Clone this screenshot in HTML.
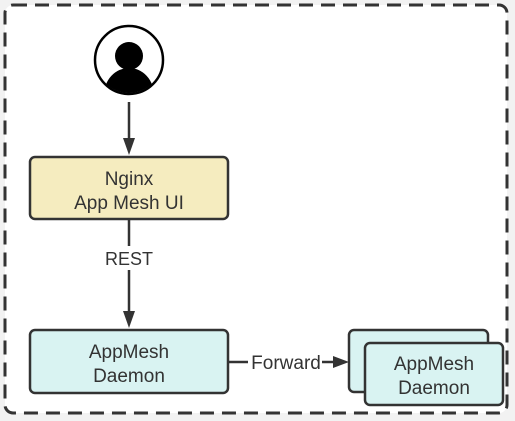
<!DOCTYPE html>
<html><head><style>
html,body{margin:0;padding:0;background:#f2f2f2;}
svg{display:block;}
text{font-family:"Liberation Sans",sans-serif;font-size:19px;fill:#333;}
</style></head><body>
<svg width="515" height="421" viewBox="0 0 515 421">
<rect x="5" y="5" width="502" height="408" rx="8" fill="#fff" stroke="#333" stroke-width="3" stroke-dasharray="14,8"/>
<circle cx="129" cy="60" r="34" fill="#fff" stroke="#000" stroke-width="2.5"/>
<clipPath id="c"><circle cx="129" cy="60" r="33"/></clipPath>
<g clip-path="url(#c)" fill="#000">
<circle cx="129" cy="56" r="14"/>
<ellipse cx="129" cy="95" rx="25" ry="27"/>
</g>
<line x1="129" y1="102" x2="129" y2="140" stroke="#333" stroke-width="2.5"/>
<polygon points="123,138 135,138 129,155" fill="#333"/>
<rect x="30" y="157" width="198" height="62" rx="5" fill="#f5ecbf" stroke="#333" stroke-width="2.5"/>
<text x="129" y="185" text-anchor="middle">Nginx</text>
<text x="129" y="209" text-anchor="middle">App Mesh UI</text>
<line x1="129" y1="219" x2="129" y2="246" stroke="#333" stroke-width="2.5"/>
<line x1="129" y1="270" x2="129" y2="313" stroke="#333" stroke-width="2.5"/>
<polygon points="123,311 135,311 129,328" fill="#333"/>
<text x="129" y="265" text-anchor="middle" style="font-size:18px">REST</text>
<rect x="30" y="330" width="198" height="63" rx="5" fill="#d9f3f2" stroke="#333" stroke-width="2.5"/>
<text x="129" y="358" text-anchor="middle">AppMesh</text>
<text x="129" y="382" text-anchor="middle">Daemon</text>
<line x1="228" y1="362" x2="248" y2="362" stroke="#333" stroke-width="2.5"/>
<text x="286" y="369" text-anchor="middle" style="font-size:19px">Forward</text>
<line x1="322" y1="362" x2="335" y2="362" stroke="#333" stroke-width="2.5"/>
<polygon points="333,356 333,368 349,362" fill="#333"/>
<rect x="349" y="330" width="139" height="62" rx="5" fill="#d9f3f2" stroke="#333" stroke-width="2.5"/>
<rect x="365" y="343" width="138" height="62" rx="5" fill="#d9f3f2" stroke="#333" stroke-width="2.5"/>
<text x="434" y="370" text-anchor="middle">AppMesh</text>
<text x="434" y="394" text-anchor="middle">Daemon</text>
</svg>
</body></html>
